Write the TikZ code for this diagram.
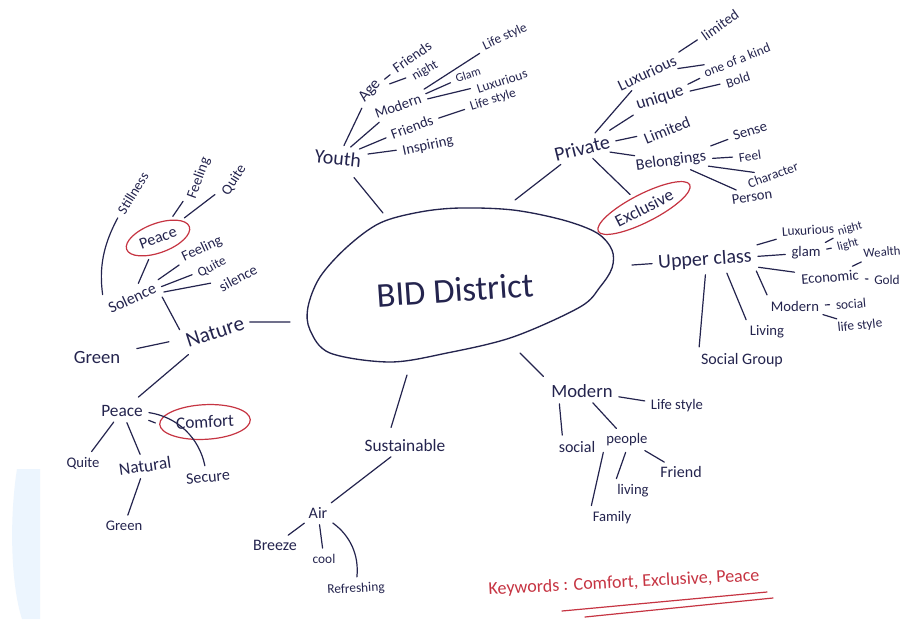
\documentclass[tikz,border=0pt]{standalone}
\usepackage{fontspec}
\setmainfont{Carlito}
\usetikzlibrary{shapes.geometric,calc}
\definecolor{ink}{RGB}{36,36,78}
\definecolor{pen}{RGB}{198,52,66}
\definecolor{paleblue}{RGB}{236,245,254}
\tikzset{
  w/.style={text=ink, inner sep=1.5pt, font=\fontsize{#1}{#1}\selectfont},
  ln/.style={draw=ink, line width=0.9pt, line cap=round, shorten >=3pt, shorten <=3pt},
  hubln/.style={ln, shorten <=0pt},
  redell/.style={draw=pen, line width=0.9pt, ellipse, inner sep=0pt},
}
\begin{document}
\begin{tikzpicture}[x=0.75pt,y=-0.75pt]
\useasboundingbox (0,0) rectangle (904,619);
\fill[white] (0,0) rectangle (904,619);
\fill[paleblue] (17,469) .. controls (9,520) and (11,585) .. (22,619) -- (40,619) -- (40,469) -- cycle;

% centre
\draw[ink, line width=1pt] plot[smooth cycle, tension=0.55] coordinates {
  (308,307) (320,277) (347,247) (380,223) (420,212) (460,208) (513,210)
  (563,220) (597,233) (612,250) (612,268) (600,287) (580,307) (513,337)
  (447,353) (390,362) (330,353) (310,330)};
\node[w=26, rotate=4] (title) at (455,290) {BID District};
\coordinate (hY) at (383,213);
\coordinate (hP) at (515,200);
\coordinate (hU) at (632,265);
\coordinate (hM) at (520,353);
\coordinate (hS) at (407,375);
\coordinate (hN) at (290,322);

% Youth
\node[w=15, rotate=-6] (youth) at (338,158) {Youth};
\node[w=12, rotate=50] (age) at (370,91) {Age};
\node[w=11, rotate=35] (friendsA) at (412,57) {Friends};
\node[w=10, rotate=30] (night) at (425,71) {night};
\node[w=11, rotate=20] (modernY) at (398,106) {Modern};
\node[w=10, rotate=25] (lifeA) at (505,37) {Life style};
\node[w=9, rotate=18] (glamY) at (468,75) {Glam};
\node[w=10, rotate=18] (luxY) at (502,81) {Luxurious};
\node[w=10, rotate=18] (lifeB) at (493,100) {Life style};
\node[w=11, rotate=20] (friendsB) at (412,127) {Friends};
\node[w=11, rotate=12] (insp) at (428,146) {Inspiring};
\draw[hubln, shorten >=9pt] (hY) -- (youth);
\draw[ln] (youth) -- (age);
\draw[ln] (age) -- (friendsA);
\draw[ln] (age) -- (night);
\draw[ln] (youth) -- (modernY);
\draw[ln] (modernY) -- (lifeA);
\draw[ln] (modernY) -- (glamY);
\draw[ln] (modernY) -- (luxY);
\draw[ln] (friendsB) -- (lifeB);
\draw[ln] (youth) -- (friendsB);
\draw[ln] (youth) -- (insp);

% Private
\node[w=15, rotate=14] (private) at (582,148) {Private};
\node[w=12, rotate=25] (luxP) at (647,73) {Luxurious};
\node[w=11, rotate=35] (limitedA) at (720,25) {limited};
\node[w=10, rotate=22] (oneof) at (737,60) {one of a kind};
\node[w=13, rotate=18] (unique) at (660,98) {unique};
\node[w=10, rotate=18] (bold) at (738,80) {Bold};
\node[w=12, rotate=22] (limitedB) at (667,130) {Limited};
\node[w=12, rotate=8] (belong) at (671,161) {Belongings};
\node[w=11, rotate=18] (sense) at (750,131) {Sense};
\node[w=10, rotate=8] (feel) at (750,156) {Feel};
\node[w=10, rotate=20] (character) at (773,175) {Character};
\node[w=11, rotate=8] (person) at (752,197) {Person};
\node[w=13, redell, rotate=27, minimum width=77pt, minimum height=21pt] (excl) at (644,208) {Exclusive};
\draw[hubln] (hP) -- (private);
\draw[ln] (private) -- (luxP);
\draw[ln] (luxP) -- (limitedA);
\draw[ln] (luxP) -- (oneof);
\draw[ln] (unique) -- (oneof);
\draw[ln] (unique) -- (bold);
\draw[ln] (private) -- (unique);
\draw[ln] (private) -- (limitedB);
\draw[ln] (private) -- (belong);
\draw[ln] (belong) -- (sense);
\draw[ln] (belong) -- (feel);
\draw[ln] (belong) -- (character);
\draw[ln] (belong) -- (person);
\draw[ln] (private) -- (excl);

% Upper class
\node[w=15, rotate=4] (upper) at (705,260) {Upper class};
\node[w=10, rotate=4] (luxU) at (808,230) {Luxurious};
\node[w=11] (glamU) at (806,253) {glam};
\node[w=9, rotate=15] (nightU) at (850,229) {night};
\node[w=9, rotate=15] (lightU) at (848,245) {light};
\node[w=9.5, rotate=5] (wealth) at (882,252) {Wealth};
\node[w=11, rotate=5] (econ) at (830,277) {Economic};
\node[w=10] (gold) at (887,280) {Gold};
\node[w=11] (modernU) at (795,306) {Modern};
\node[w=10, rotate=5] (socialU) at (851,304) {social};
\node[w=10, rotate=6] (lifeU) at (860,326) {life style};
\node[w=11] (living) at (767,332) {Living};
\node[w=12] (socgroup) at (742,360) {Social Group};
\draw[hubln] (hU) -- (upper);
\draw[ln] (upper) -- (luxU);
\draw[ln] (upper) -- (glamU);
\draw[ln] (glamU) -- (nightU);
\draw[ln] (glamU) -- (lightU);
\draw[ln] (upper) -- (econ);
\draw[ln] (econ) -- (wealth);
\draw[ln] (econ) -- (gold);
\draw[ln] (upper.south east) -- (modernU.north west);
\draw[ln] (modernU) -- (socialU);
\draw[ln] (modernU) -- (lifeU);
\draw[ln] ($(upper.south)!0.4!(upper.south east)$) -- (living.north west);
\draw[ln] (upper.south) -- (socgroup.north west);

% Nature
\node[w=16, rotate=18] (nature) at (215,332) {Nature};
\node[w=14] (greenA) at (97,357) {Green};
\node[w=12, rotate=25] (solence) at (132,298) {Solence};
\node[w=12, redell, rotate=20, minimum width=50pt, minimum height=22pt] (peaceR) at (158,238) {Peace};
\node[w=10.5, rotate=58] (still) at (133,193) {Stillness};
\node[w=11, rotate=70] (feelingA) at (199,178) {Feeling};
\node[w=11, rotate=58] (quiteA) at (234,180) {Quite};
\node[w=11, rotate=25] (feelingB) at (202,249) {Feeling};
\node[w=10, rotate=28] (quiteB) at (212,267) {Quite};
\node[w=11, rotate=28] (silence) at (238,278) {silence};
\draw[hubln] (hN) -- (nature.east);
\draw[ln, shorten >=11pt, shorten <=11pt] (greenA) -- (nature);
\draw[ln] (solence.south east) -- (nature.north west);
\draw[ln, shorten <=6pt] (solence.north west) to[bend left=18] (still.west);
\draw[ln] (solence) -- (peaceR);
\draw[ln] (peaceR) -- (feelingA);
\draw[ln] (peaceR) -- (quiteA);
\draw[ln] (solence) -- (feelingB);
\draw[ln] (solence) -- (quiteB);
\draw[ln] (solence) -- (silence);

% Peace / Comfort
\node[w=13] (peaceL) at (122,411) {Peace};
\node[w=13, redell, rotate=3, minimum width=68pt, minimum height=26pt] (comfort) at (205,422) {Comfort};
\node[w=11] (quiteL) at (83,463) {Quite};
\node[w=13, rotate=8] (natural) at (145,466) {Natural};
\node[w=12, rotate=5] (secure) at (208,477) {Secure};
\node[w=11] (greenB) at (124,526) {Green};
\draw[ln, shorten >=7pt, shorten <=8pt] (nature) -- (peaceL);
\draw[ln] (comfort.west) -- (peaceL.south east);
\draw[ln] (peaceL) -- (quiteL);
\draw[ln] (peaceL) -- (natural);
\draw[ln] (peaceL) to[bend left=35] (secure);
\draw[ln] (natural) -- (greenB);

% Sustainable
\node[w=13] (sust) at (405,446) {Sustainable};
\node[w=12] (air) at (318,513) {Air};
\node[w=12] (breeze) at (275,545) {Breeze};
\node[w=10] (cool) at (324,559) {cool};
\node[w=10, rotate=3] (refresh) at (356,589) {Refreshing};
\draw[hubln, shorten >=8pt] (hS) -- ($(sust.north)!0.4!(sust.north west)$);
\draw[ln] (sust) -- (air);
\draw[ln] (air) -- (breeze);
\draw[ln] (air) -- (cool);
\draw[ln] (air) to[bend left=30] (refresh);

% Modern (bottom)
\node[w=14] (modernB) at (582,391) {Modern};
\node[w=11] (lifeM) at (677,406) {Life style};
\node[w=12] (socialM) at (577,447) {social};
\node[w=11] (people) at (627,440) {people};
\node[w=12] (friend) at (681,472) {Friend};
\node[w=11] (livingM) at (633,491) {living};
\node[w=11] (family) at (612,518) {Family};
\draw[hubln, shorten >=6pt] (hM) -- (modernB.north west);
\draw[ln] (modernB) -- (lifeM);
\draw[ln] ($(modernB.south west)!0.15!(modernB.south east)$) -- ($(socialM.north west)!0.15!(socialM.north east)$);
\draw[ln] (modernB) -- (people);
\draw[ln] (people) -- (friend);
\draw[ln] (people.south) -- (livingM.north west);
\draw[ln] (people.south west) -- (family.north west);

% Keywords
\node[w=13.5, text=pen, rotate=3] (kw) at (624,583) {Keywords : Comfort, Exclusive, Peace};
\draw[pen, line width=0.9pt, line cap=round] (562,611) -- (767,592);
\draw[pen, line width=0.9pt, line cap=round] (585,617) -- (773,598);
\end{tikzpicture}
\end{document}
